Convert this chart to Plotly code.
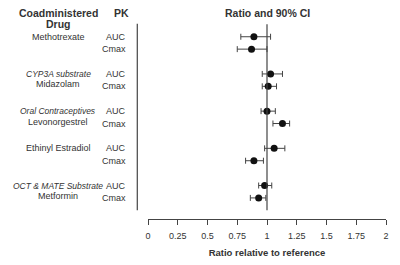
import plotly.graph_objects as go

groups = ["", "CYP3A substrate", "Oral Contraceptives", "", "OCT & MATE Substrate"]
drugs = ["Methotrexate", "Midazolam", "Levonorgestrel", "Ethinyl Estradiol", "Metformin"]
pk = ["AUC", "Cmax"]
ratio = [[0.89, 0.87], [1.03, 1.01], [1.00, 1.13], [1.06, 0.89], [0.98, 0.93]]
lower = [[0.78, 0.75], [0.96, 0.96], [0.95, 1.05], [0.98, 0.82], [0.93, 0.86]]
upper = [[1.03, 1.00], [1.13, 1.08], [1.07, 1.19], [1.15, 0.97], [1.04, 0.99]]
ticks = [0, 0.25, 0.5, 0.75, 1, 1.25, 1.5, 1.75, 2]
tick_text = ["0", "0.25", "0.5", "0.75", "1", "1.25", "1.5", "1.75", "2"]

FONT = "Liberation Sans Narrow, Liberation Sans, Arial, sans-serif"
TXT = "#333333"

xs, ys, ep, em = [], [], [], []
for g in range(len(drugs)):
    for k in range(2):
        y = 3 * g + k
        xs.append(ratio[g][k])
        ys.append(y)
        ep.append(upper[g][k] - ratio[g][k])
        em.append(ratio[g][k] - lower[g][k])

fig = go.Figure()
fig.add_trace(go.Scatter(
    x=xs, y=ys, mode="markers",
    marker=dict(color="#111111", size=7),
    error_x=dict(type="data", symmetric=False, array=ep, arrayminus=em,
                 color="#444444", thickness=1, width=3),
    showlegend=False, hoverinfo="skip"))

fig.add_shape(type="line", xref="x", yref="y", x0=1, x1=1, y0=-1.0, y1=14.0,
              line=dict(color="#444444", width=1.2))
fig.add_shape(type="line", xref="paper", yref="y", x0=-0.045, x1=-0.045, y0=-1.05, y1=14.0,
              line=dict(color="#444444", width=1.2))

CX = -0.378
ann = []
for g in range(len(drugs)):
    base = 3 * g
    if groups[g]:
        ann.append(dict(text="<i>" + groups[g] + "</i>", x=CX, y=base, xref="paper", yref="y",
                        showarrow=False, xanchor="center", yanchor="middle",
                        font=dict(family=FONT, size=8.5, color=TXT)))
        ann.append(dict(text=drugs[g], x=CX, y=base + 0.85, xref="paper", yref="y",
                        showarrow=False, xanchor="center", yanchor="middle",
                        font=dict(family=FONT, size=9, color=TXT)))
    else:
        ann.append(dict(text=drugs[g], x=CX, y=base, xref="paper", yref="y",
                        showarrow=False, xanchor="center", yanchor="middle",
                        font=dict(family=FONT, size=9, color=TXT)))
    for k in range(2):
        ann.append(dict(text=pk[k], x=-0.083, y=base + k, xref="paper", yref="y",
                        showarrow=False, xanchor="right", yanchor="middle",
                        font=dict(family=FONT, size=9, color=TXT)))

HY = 1.035  # header row (about 13 px from top)
ann.append(dict(text="<b>Coadministered</b>", x=CX, y=HY, xref="paper", yref="paper",
                showarrow=False, xanchor="center", yanchor="middle",
                font=dict(family=FONT, size=10.5, color=TXT)))
ann.append(dict(text="<b>Drug</b>", x=CX, y=HY - 0.055, xref="paper", yref="paper",
                showarrow=False, xanchor="center", yanchor="middle",
                font=dict(family=FONT, size=10.5, color=TXT)))
ann.append(dict(text="<b>PK</b>", x=-0.11, y=HY, xref="paper", yref="paper",
                showarrow=False, xanchor="center", yanchor="middle",
                font=dict(family=FONT, size=10.5, color=TXT)))
ann.append(dict(text="<b>Ratio and 90% CI</b>", x=0.5, y=HY, xref="paper", yref="paper",
                showarrow=False, xanchor="center", yanchor="middle",
                font=dict(family=FONT, size=10.5, color=TXT)))

fig.update_layout(
    width=400, height=265,
    margin=dict(l=148, r=14, t=20, b=46),
    paper_bgcolor="white", plot_bgcolor="white",
    annotations=ann,
    xaxis=dict(range=[0, 2], tickvals=ticks, ticktext=tick_text, automargin=False,
               showgrid=False, zeroline=False, showline=True, linecolor="#444444", linewidth=1.2,
               ticks="outside", ticklen=5, tickcolor="#444444", tickwidth=1.2,
               ticklabelstandoff=3,
               tickfont=dict(family=FONT, size=9, color=TXT),
               title=dict(text="<b>Ratio relative to reference</b>", standoff=9,
                          font=dict(family=FONT, size=9.5, color=TXT))),
    yaxis=dict(range=[14.7, -1.35], visible=False, showgrid=False, zeroline=False),
)

fig.write_html("out.html")
